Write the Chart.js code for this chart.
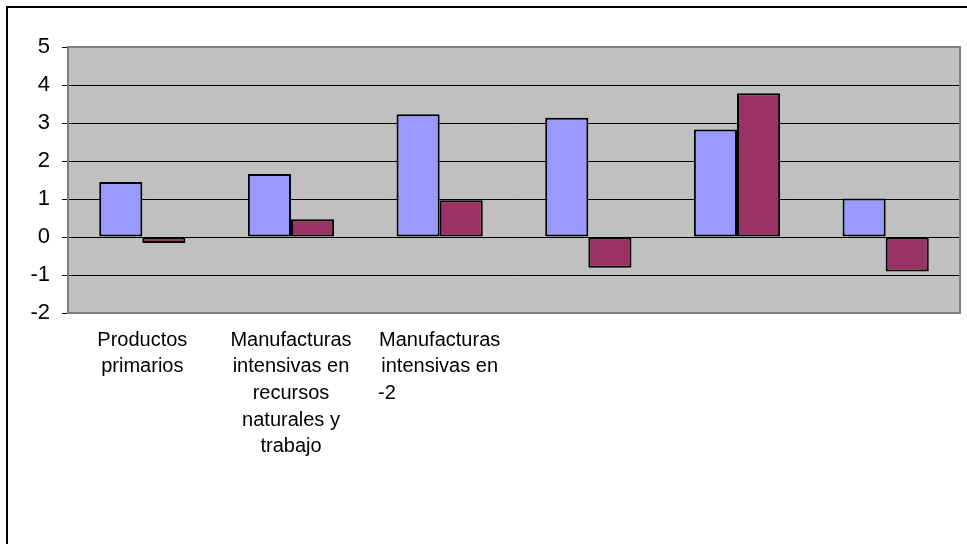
<!DOCTYPE html>
<html>
<head>
<meta charset="utf-8">
<script src="https://cdn.jsdelivr.net/npm/chart.js@4"></script>
<style>
    html, body {
        margin: 0;
        padding: 0;
        background: #ffffff;
        overflow: hidden;
    }
    .frame {
        position: absolute;
        left: 6px;
        top: 6px;
        width: 1100px;
        height: 700px;
        border: 2px solid #000000;
    }
    .chart-box {
        position: absolute;
        left: 0;
        top: 0;
        width: 967px;
        height: 544px;
    }
</style>
</head>
<body>
<div class="frame"></div>
<div class="chart-box">
    <canvas id="barChart" width="967" height="544"></canvas>
</div>
<script>
// categorias (solo las tres primeras tienen texto visible)
const categories = [
    ["Productos", "primarios"],
    ["Manufacturas", "intensivas en", "recursos", "naturales y", "trabajo"],
    ["Manufacturas", "intensivas en", "-2                   "],
    "",
    "",
    ""
];

const serieA = [1.45, 1.66, 3.23, 3.14, 2.83, 1.01];
const serieB = [-0.16, 0.47, 0.97, -0.81, 3.78, -0.91];

const yMin = -2;
const yMax = 5;
const yStep = 1;

/* fondo gris y borde del area de trazado */
const plotAreaPlugin = {
    id: "plotArea",
    beforeDraw(chart) {
        const { ctx, chartArea: { left, top, width, height } } = chart;
        ctx.save();
        ctx.fillStyle = "#c0c0c0";
        ctx.fillRect(left, top, width, height);
        ctx.restore();
    },
    beforeDatasetsDraw(chart) {
        const { ctx, chartArea: { left, top, width, height } } = chart;
        ctx.save();
        ctx.strokeStyle = "#808080";
        ctx.lineWidth = 2;
        ctx.strokeRect(left, top, width, height);
        ctx.restore();
    }
};

const family = "'Liberation Sans', Arial, sans-serif";

new Chart(document.getElementById("barChart"), {
    type: "bar",
    data: {
        labels: categories,
        datasets: [
            {
                label: "Serie 1",
                data: serieA,
                backgroundColor: "#9999ff",
                borderColor: "#000000",
                borderWidth: 2,
                borderSkipped: false
            },
            {
                label: "Serie 2",
                data: serieB,
                backgroundColor: "#993366",
                borderColor: "#000000",
                borderWidth: 2,
                borderSkipped: false
            }
        ]
    },
    options: {
        responsive: false,
        animation: false,
        layout: {
            padding: { left: 0, top: 47, right: 7, bottom: 0 }
        },
        datasets: {
            bar: {
                categoryPercentage: 0.58,
                barPercentage: 1.0
            }
        },
        plugins: {
            legend: { display: false },
            tooltip: { enabled: false },
            title: { display: false }
        },
        scales: {
            x: {
                grid: { display: false, drawTicks: false, tickLength: 0 },
                border: { display: false },
                ticks: {
                    color: "#000000",
                    font: { family: family, size: 20, lineHeight: 1.33 },
                    padding: 14,
                    autoSkip: false,
                    maxRotation: 0,
                    minRotation: 0
                },
                afterFit(scale) {
                    scale.height = 231;
                }
            },
            y: {
                min: yMin,
                max: yMax,
                ticks: {
                    stepSize: yStep,
                    color: "#000000",
                    font: { family: family, size: 22 },
                    padding: 12
                },
                grid: {
                    color: "#000000",
                    lineWidth: 1,
                    drawTicks: true,
                    tickLength: 6
                },
                border: { display: true, color: "#404040", width: 1.5 },
                afterFit(scale) {
                    scale.width = 68;
                }
            }
        }
    },
    plugins: [plotAreaPlugin]
});
</script>
</body>
</html>
